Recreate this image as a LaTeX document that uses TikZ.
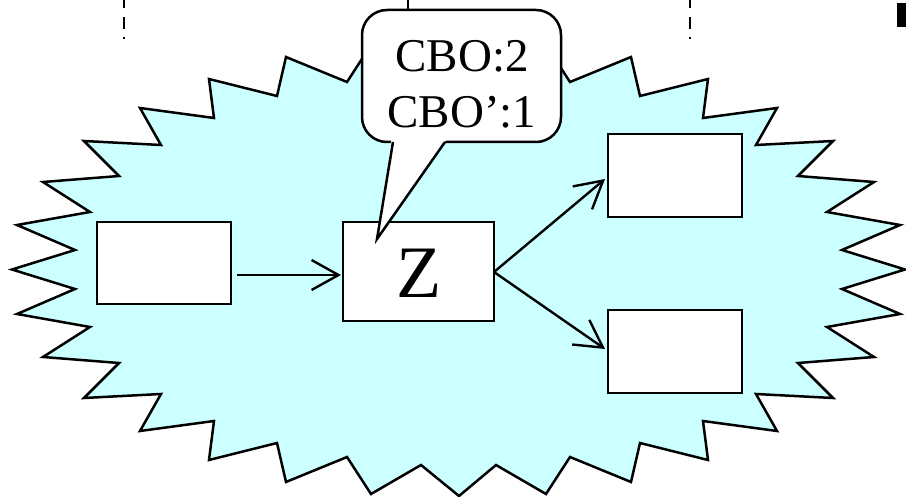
\documentclass[tikz,border=0pt]{standalone}
\usepackage{fontspec}
\setmainfont{Liberation Serif}
\usetikzlibrary{arrows.meta,calc}
\definecolor{burst}{RGB}{204,255,255}
\begin{document}
\begin{tikzpicture}[x=1pt,y=-1pt,
  outline/.style={line width=2.5pt, line join=miter},
  plainbox/.style={draw, fill=white, line width=2.7pt, inner sep=0pt, outer sep=0pt},
  flow/.style={line width=2.4pt, -{Straight Barb[length=27pt,width=30pt,line width=2.4pt]}},
  guide/.style={line width=2.6pt, dash pattern=on 12pt off 9pt on 12pt off 8pt on 2pt off 200pt},
  bubble/.style={draw, fill=white, line width=2.5pt, rounded corners=25pt, inner sep=0pt, outer sep=0pt,
                 minimum width=199pt, minimum height=132pt},
  bubbletext/.style={anchor=base, inner sep=0pt, font=\fontsize{47}{47}\selectfont},
]
\clip (0,0) rectangle (906,497);

% dashed guide lines entering from the top
\draw[guide] (124,-4) -- (124,40);
\draw[guide] (690,-4) -- (690,40);
\draw[line width=2.5pt] (408,-4) -- (408,12);
\fill (897,3) rectangle (906,27);

% the starburst region
\draw[outline, fill=burst]
  (459,43) -- (496,74) -- (546,45) -- (570,82) -- (631,57) -- (640,96) -- (708,79) -- (703,118)
  -- (777,108) -- (756,145) -- (833,141) -- (798,176) -- (874,182) -- (827,212) -- (900,225)
  -- (842,250) -- (905,269.5)
  -- (842,289) -- (900,314) -- (827,327) -- (874,357) -- (798,363) -- (833,398) -- (756,394)
  -- (777,431) -- (703,421) -- (708,460) -- (640,443) -- (631,482) -- (570,457) -- (546,494)
  -- (496,465) -- (459,496)
  -- (421,465) -- (371,494) -- (347,457) -- (286,482) -- (277,443) -- (209,460) -- (214,421)
  -- (140,431) -- (161,394) -- (84,398) -- (119,363) -- (43,357) -- (90,327) -- (17,314)
  -- (75,289) -- (12,269.5)
  -- (75,250) -- (17,225) -- (90,212) -- (43,182) -- (119,176) -- (84,141) -- (161,145)
  -- (140,108) -- (214,118) -- (209,79) -- (277,96) -- (286,57) -- (347,82) -- (371,45)
  -- (421,74) -- cycle;

% boxes
\node[plainbox, minimum width=134pt, minimum height=82pt] (lb) at (164,263) {};
\node[plainbox, minimum width=151pt, minimum height=99pt] (z) at (418.5,271.5) {};
\node[plainbox, minimum width=134pt, minimum height=83pt] (tr) at (675,175.5) {};
\node[plainbox, minimum width=134pt, minimum height=83pt] (br) at (675,351.5) {};
\node[anchor=base, inner sep=0pt, font=\fontsize{74}{74}\selectfont] (zlabel) at (419,298) {Z};

% connectors
\draw[flow] ($(lb.east)+(6,12)$) -- ($(z.west)+(-2,3.5)$);
\draw[flow] ($(z.east)+(0,0.5)$) -- ($(tr.west)+(-3,3.5)$);
\draw[flow] ($(z.east)+(0,0.5)$) -- ($(br.west)+(-3,-2.5)$);

% callout
\node[bubble] (cbo) at (461.5,76) {};
\coordinate (ptip) at (377,239);
\fill[white] ($(cbo.south)+(-70,-2.5)$) -- (ptip) -- ($(cbo.south)+(-15,-2.5)$) -- cycle;
\draw[line width=2.5pt, line join=miter] ($(cbo.south)+(-68.5,0)$) -- (ptip) -- ($(cbo.south)+(-16.5,0)$);
\node[bubbletext] (cbo1) at (462,72) {CBO:2};
\node[bubbletext] (cbo2) at (462,128) {CBO’:1};
\end{tikzpicture}
\end{document}
